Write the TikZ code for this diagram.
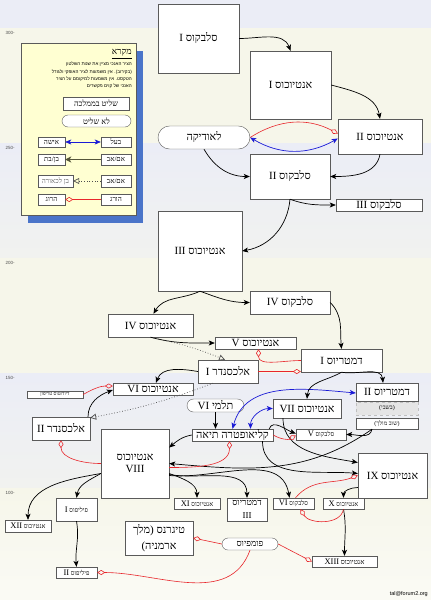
\documentclass[tikz,border=0pt]{standalone}
\usepackage{fontspec}
\setmainfont{Liberation Serif}[Script=Hebrew]
\newfontfamily\hebsans{Liberation Sans}[Script=Hebrew]
\usepackage{xcolor}
\usetikzlibrary{arrows.meta,shapes.misc}
\TeXXeTstate=1
\newcommand{\heb}[1]{\beginR#1\endR}
\newcommand{\rn}[1]{\beginL#1\endL{}}
\newcommand{\srn}[1]{{\fontsize{8.5}{9}\selectfont\beginL#1\endL{}}}

\definecolor{bandblue}{HTML}{EBEDF6}
\definecolor{bandcream}{HTML}{F6F6EA}
\definecolor{legendfill}{HTML}{FFFFD2}
\definecolor{legendshadow}{HTML}{4A74C9}
\definecolor{boxline}{HTML}{5A5A5A}
\definecolor{killred}{HTML}{E8262B}
\definecolor{spouseblue}{HTML}{1A1AD6}
\definecolor{parentline}{HTML}{55553A}

\tikzset{
  sz/.style 2 args={minimum width=#1pt,minimum height=#2pt},
  ruler/.style={draw=boxline,fill=white,inner sep=0pt,font=\fontsize{11}{12}\selectfont},
  rulersm/.style={ruler,font=\fontsize{6.5}{7}\selectfont},
  nonruler/.style={ruler,rounded rectangle},
  captive/.style={draw=black!25,dashed,fill=black!10,inner sep=0pt,font=\fontsize{6}{7}\selectfont},
  child/.style={draw=black,line width=0.7pt,-{Stealth[length=6pt,width=5pt,inset=1.5pt]}},
  spouse/.style={draw=spouseblue,line width=0.7pt,{Stealth[length=6pt,width=5pt,inset=1.5pt]}-{Stealth[length=6pt,width=5pt,inset=1.5pt]}},
  kill/.style={draw=killred,line width=0.6pt,-{Diamond[open,length=8pt,width=5pt]}},
  alleged/.style={draw=black!70,dotted,line width=0.7pt,-{Triangle[open,length=6pt,width=6pt]}},
  legbox/.style={draw=boxline,fill=white,inner sep=0pt,font=\fontsize{7}{8}\selectfont},
  yearlabel/.style={anchor=west,text=black!70,font=\hebsans\fontsize{4.5}{5}\selectfont}
}

\begin{document}
\begin{tikzpicture}[x=1pt,y=1pt]
\useasboundingbox (0,0) rectangle (431,-600);
% background bands
\fill[bandblue] (0,0) rectangle (431,-28);
\fill[bandcream] (0,-28) rectangle (431,-143);
\shade[top color=bandblue,bottom color=bandblue!45!bandcream] (0,-143) rectangle (431,-258);
\fill[bandcream] (0,-258) rectangle (431,-373);
\shade[top color=bandblue,bottom color=bandblue!45!bandcream] (0,-373) rectangle (431,-488);
\shade[top color=bandcream,bottom color=bandcream!50!white] (0,-488) rectangle (431,-600);
\node (y300) at (2,-33) [yearlabel] {-300};
\node (y250) at (2,-148) [yearlabel] {-250};
\node (y200) at (2,-263) [yearlabel] {-200};
\node (y150) at (2,-378) [yearlabel] {-150};
\node (y100) at (2,-493) [yearlabel] {-100};

% legend
\fill[legendshadow] (28,-51) rectangle (143,-223);
\node (legend) at (78.5,-129) [draw=boxline,fill=legendfill,sz={115}{172}] {};
\node (legtitle) at (132,-54) [anchor=east,inner sep=0pt,font=\fontsize{9}{10}\selectfont] {\underline{\heb{מקרא}}};
\node (legnote) at (132,-62) [anchor=north east,inner sep=0pt,align=right,font=\hebsans\fontsize{4.6}{7.3}\selectfont]
  {\heb{הציר האנכי מציין את שנות השלטון}\\\heb{(בקירוב). אין משמעות לציר האופקי ולגודל}\\\heb{הטקסט. אין משמעות למיקומם על הציר}\\\heb{האנכי של קוים מקשרים}};
\node (legruler) at (96,-103.5) [legbox,sz={66}{13},font=\fontsize{8}{9}\selectfont] {\heb{שליט בממלכה}};
\node (legnon) at (96.5,-121) [legbox,rounded rectangle,sz={69}{12},font=\fontsize{8}{9}\selectfont] {\heb{לא שליט}};
\node (lwife) at (51.5,-142) [legbox,sz={27}{10}] {\heb{אישה}};
\node (lhusband) at (116,-142) [legbox,sz={30}{10}] {\heb{בעל}};
\node (lchild) at (51.5,-159.5) [legbox,sz={27}{11}] {\heb{בן/בת}};
\node (lparent) at (116,-159.5) [legbox,sz={30}{11}] {\heb{אם/אב}};
\node (lalleged) at (55.5,-181) [legbox,sz={35}{12},text=black!60] {\heb{בן לכאורה}};
\node (lparentb) at (116,-181) [legbox,sz={30}{12}] {\heb{אם/אב}};
\node (lvictim) at (51.5,-199.5) [legbox,sz={27}{11}] {\heb{הרוג}};
\node (lkiller) at (116,-199.5) [legbox,sz={30}{11}] {\heb{הורג}};
\draw[spouse] (lhusband.west) -- (lwife.east);
\draw[draw=parentline,line width=1.5pt,-{Stealth[length=6pt,width=6pt,inset=1.5pt,fill=black]}] (lparent.west) -- (lchild.east);
\draw[alleged] (lparentb.west) -- (lalleged.east);
\draw[kill] (lkiller.west) -- (lvictim.east);

% rulers and others
\node (sel1) at (198.5,-38.5) [ruler,sz={81}{69}] {\heb{סלבקוס \rn{I}}};
\node (ant1) at (290.5,-85) [ruler,sz={81}{68}] {\heb{אנטיוכוס \rn{I}}};
\node (ant2) at (380,-136.5) [ruler,sz={84}{35}] {\heb{אנטיוכוס \rn{II}}};
\node (laod) at (204,-137.5) [nonruler,sz={92}{23}] {\heb{לאודיקה}};
\node (sel2) at (290,-176.5) [ruler,sz={80}{45}] {\heb{סלבקוס \rn{II}}};
\node (sel3) at (379,-205) [ruler,sz={86}{12}] {\heb{סלבקוס \rn{III}}};
\node (ant3) at (200,-251) [ruler,sz={84}{80}] {\heb{אנטיוכוס \rn{III}}};
\node (sel4) at (290,-302.5) [ruler,sz={80}{23}] {\heb{סלבקוס \rn{IV}}};
\node (ant4) at (150.5,-325.5) [ruler,sz={85}{23}] {\heb{אנטיוכוס \rn{IV}}};
\node (ant5) at (255.5,-343) [ruler,sz={81}{12}] {\heb{אנטיוכוס \rn{V}}};
\node (dem1) at (341.5,-360.5) [ruler,sz={81}{23}] {\heb{דמטריוס \rn{I}}};
\node (alex1) at (228,-371.5) [ruler,sz={60}{23}] {\heb{אלכסנדר \rn{I}}};
\node (ant6) at (153,-389) [ruler,sz={80}{12}] {\heb{אנטיוכוס \rn{VI}}};
\node (tryph) at (55,-394.5) [ruler,sz={56}{7},font=\fontsize{5}{5}\selectfont] {\heb{דיודוטוס טריפון}};
\node (alex2) at (61,-428.5) [ruler,sz={58}{23}] {\heb{אלכסנדר \rn{II}}};
\node (ptol6) at (215.5,-405.5) [nonruler,sz={57}{13}] {\heb{תלמי \rn{VI}}};
\node (cleo) at (232.5,-435) [ruler,sz={81}{12}] {\heb{קליאופטרה תיאה}};
\node (ant7) at (307,-408.5) [ruler,sz={68}{19}] {\heb{אנטיוכוס \rn{VII}}};
\node (dem2) at (387,-392) [ruler,sz={62}{18}] {\heb{דמטריוס \rn{II}}};
\node (prison) at (387,-408.5) [captive,sz={62}{13}] {\heb{(בשבי)}};
\node (again) at (387,-423.5) [rulersm,sz={62}{11},font=\fontsize{6}{7}\selectfont] {\heb{(שוב מולך)}};
\node (sel5) at (321,-434.5) [rulersm,sz={50}{11}] {\heb{סלבקוס \srn{V}}};
\node (ant8) at (135,-463.5) [ruler,sz={68}{69},align=center] {\heb{אנטיוכוס}\\\rn{VIII}};
\node (ant9) at (392.5,-475.5) [ruler,sz={69}{45}] {\heb{אנטיוכוס \rn{IX}}};
\node (ant12) at (28,-526) [rulersm,sz={46}{12}] {\heb{אנטיוכוס \srn{XII}}};
\node (phil1) at (76.5,-509.5) [rulersm,sz={41}{23}] {\heb{פיליפוס \srn{I}}};
\node (phil2) at (76.5,-572.5) [rulersm,sz={41}{11}] {\heb{פיליפוס \srn{II}}};
\node (ant11) at (197,-503.5) [rulersm,sz={46}{11}] {\heb{אנטיוכוס \srn{XI}}};
\node (dem3) at (247,-509.5) [ruler,sz={40}{23},align=center,font=\fontsize{9}{13}\selectfont] {\heb{דמטריוס}\\\rn{III}};
\node (sel6) at (293.5,-503.5) [rulersm,sz={41}{11}] {\heb{סלבקוס \srn{VI}}};
\node (ant10) at (343.5,-503.5) [rulersm,sz={41}{11}] {\heb{אנטיוכוס \srn{X}}};
\node (tigr) at (159,-538) [ruler,sz={68}{34},align=center,font=\fontsize{11}{16}\selectfont] {\heb{טיגרנס (מלך}\\\heb{ארמניה)}};
\node (pomp) at (250,-544) [nonruler,sz={56}{12},font=\fontsize{9}{10}\selectfont] {\heb{פומפיוס}};
\node (ant13) at (344.5,-561.5) [rulersm,sz={65}{11},font=\fontsize{7}{8}\selectfont] {\heb{אנטיוכוס \srn{XIII}}};
\node (mail) at (428,-594) [anchor=east,inner sep=0pt,font=\hebsans\fontsize{5.5}{6}\selectfont] {tal@forum2.org};

% connectors
\draw[child] (sel1.east) to[out=0,in=110] (ant1.north);
\draw[child] (ant1.east) to[out=-15,in=100] (ant2.north);
\draw[kill] (laod.east) to[bend left=30] ([yshift=3pt]ant2.west);
\draw[spouse] (laod.east) to[bend right=30] ([yshift=-2pt]ant2.west);
\draw[child] (laod.south) to[out=-60,in=180] (sel2.west);
\draw[child] (ant2.south) to[out=-100,in=0] (sel2.east);
\draw[child] (sel2.south) to[out=-20,in=180] (sel3.west);
\draw[child] (sel2.south) to[out=-95,in=10] (ant3.east);
\draw[child] (ant3.south) to[out=-155,in=60] ([xshift=3pt]ant4.north);
\draw[child] (ant3.south) to[out=-20,in=180] (sel4.west);
\draw[child] (ant4.south) to[out=-15,in=180] (ant5.west);
\draw[alleged] (ant4.south) to[bend left=5] ([xshift=-3pt]alex1.north);
\draw[child] (sel4.east) to[out=-45,in=95] (dem1.north);
\draw[kill] (dem1.west) to[out=180,in=-90] ([xshift=3pt]ant5.south);
\draw[kill] (alex1.east) -- (alex1.east -| dem1.west);
\draw[child] (alex1.west) to[out=170,in=70] ([xshift=3pt]ant6.north);
\draw[kill] (tryph.east) to[out=30,in=180] ([yshift=3pt]ant6.west);
\draw[child] ([xshift=27pt]alex2.north) to[out=90,in=200] ([yshift=-1pt]ant6.west);
\draw[alleged] ([xshift=-15pt]alex1.south) to[bend left=5] ([yshift=-1pt]alex2.north east);
\draw[child] (ptol6.south) -- (ptol6.south |- cleo.north);
\draw[spouse] (cleo.north) to[out=75,in=175] ([yshift=-1pt]dem2.west);
\draw[spouse] ([xshift=18pt]cleo.north) to[out=90,in=180] (ant7.west);
\draw[child] (dem1.south) to[out=-150,in=85] (ant7.north);
\draw[child] (dem1.south) to[out=-10,in=95] ([xshift=-4pt]dem2.north);
\draw[child] ([xshift=-15pt]again.south) to[out=-100,in=0] (sel5.east);
\draw[child] ([xshift=-15pt]again.south) to[out=-145,in=-5] (ant8.east);
\draw[child] ([xshift=-24pt]ant7.south) to[out=-90,in=170] ([yshift=13pt]ant9.west);
\draw[child] ([xshift=30pt]cleo.south) to[out=-90,in=175] ([yshift=2pt]ant9.west);
\draw[child] ([xshift=-4pt]cleo.north east) to[out=70,in=160] ([yshift=1pt]sel5.west);
\draw[kill] (cleo.east) to[out=-30,in=-150] ([yshift=-1pt]sel5.west);
\draw[child] (cleo.west) to[out=190,in=40] ([yshift=16pt]ant8.east);
\draw[kill] ([yshift=-4pt]ant8.east) to[out=0,in=-90] ([xshift=-3pt]cleo.south);
\draw[kill] (ant8.west) to[out=180,in=-90] (alex2.south);
\draw[child] ([yshift=-10pt]ant8.west) to[out=190,in=90] (ant12.north);
\draw[child] ([yshift=-10pt]ant8.west) to[out=210,in=80] (phil1.north);
\draw[child] (phil1.south) to[out=-80,in=95] (phil2.north);
\draw[child] ([yshift=-10pt]ant8.east) to[out=-20,in=90] (ant11.north);
\draw[child] ([yshift=-11pt]ant8.east) to[out=-10,in=90] (dem3.north);
\draw[child] ([yshift=-12pt]ant8.east) to[out=-5,in=100] ([xshift=-4pt]sel6.north);
\draw[child] ([yshift=-12pt]ant9.west) to[out=180,in=90] (ant10.north);
\draw[child] (ant10.south) to[out=-80,in=90] (ant13.north);
\draw[kill] ([xshift=2pt]sel6.north) to[out=50,in=200] (ant9.west);
\draw[kill] (ant10.south) to[out=-100,in=-60] ([xshift=7pt]sel6.south);
\draw[kill] (pomp.east) -- (ant13.west);
\draw[kill] (pomp.west) -- (tigr.east);
\draw[kill] (pomp.south) to[out=-110,in=0] (phil2.east);
\end{tikzpicture}
\end{document}
